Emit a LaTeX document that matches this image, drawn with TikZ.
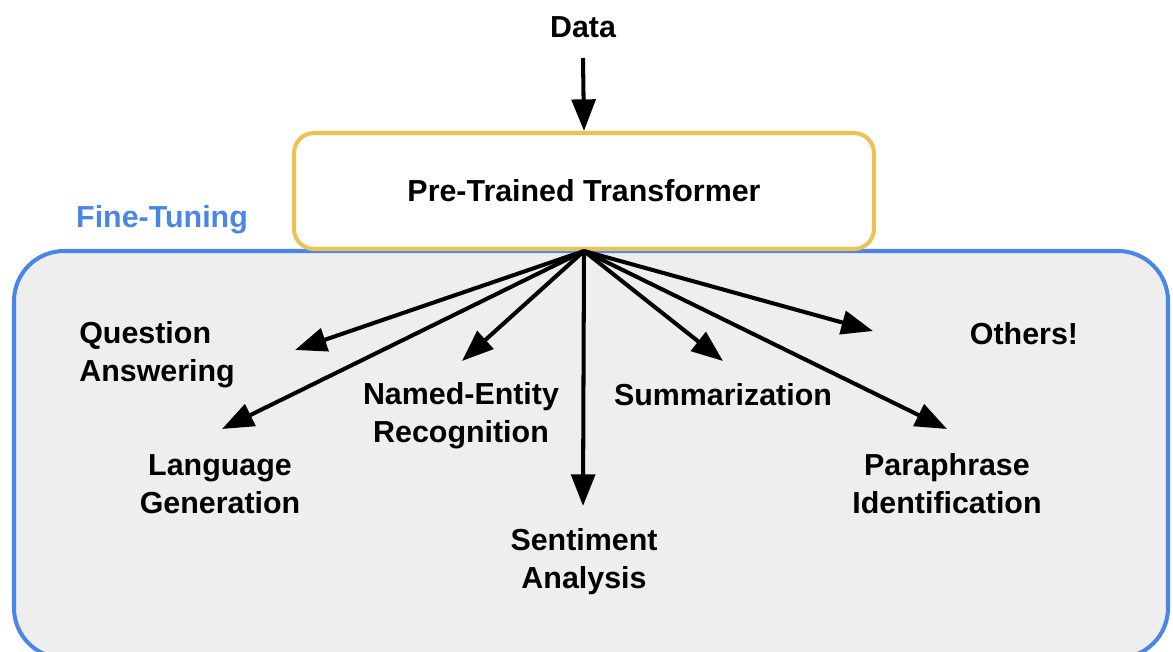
\documentclass[tikz,border=0pt]{standalone}
\usepackage{fontspec}
\setmainfont{Liberation Sans}
\usetikzlibrary{arrows.meta}

\definecolor{tuneblue}{HTML}{4A86E8}
\definecolor{tunegray}{HTML}{EEEEEE}
\definecolor{modelyellow}{HTML}{EBC253}

\begin{document}
\begin{tikzpicture}[x=0.02cm, y=-0.02cm,
	txt/.style={font=\bfseries\fontsize{17.3}{21.5}\selectfont, align=center, inner sep=0pt},
	arr/.style={line width=2.3pt, -{Triangle[length=18pt, width=13.5pt]}}]

	\useasboundingbox (0,0) rectangle (1173,652);
	\clip (0,0) rectangle (1173,652);

	% fine-tuning area
	\draw[tuneblue, fill=tunegray, line width=2.3pt, rounded corners=1cm]
		(14,251) rectangle (1168,658);
	\node[txt, text=tuneblue] (ft) at (162,220) {Fine-Tuning};

	\node[txt] (data) at (583,27) {Data};
	\node[txt, draw=modelyellow, fill=white, line width=2.3pt,
		rounded corners=0.4cm, minimum width=11.6cm, minimum height=2.32cm]
		(ptt) at (584,191) {Pre-Trained Transformer};

	\node[txt, align=left, anchor=west] (qa) at (79,355) {Question\\Answering};
	\node[txt] (lg) at (220,484) {Language\\Generation};
	\node[txt] (ner) at (461,416) {Named-Entity\\Recognition};
	\node[txt] (sa) at (584,562) {Sentiment\\Analysis};
	\node[txt] (sum) at (723,395) {Summarization};
	\node[txt] (oth) at (1024,334) {Others!};
	\node[txt] (pi) at (947,484) {Paraphrase\\Identification};

	% arrow tips
	\coordinate (t1) at (295,350);
	\coordinate (t2) at (222,429);
	\coordinate (t3) at (462,361);
	\coordinate (t4) at (583,506);
	\coordinate (t5) at (723,361);
	\coordinate (t6) at (873,331);
	\coordinate (t7) at (947,429);

	\draw[arr] (583,58) -- (ptt.north);

	\foreach \i in {1,...,7}
	{
		\draw[arr] (ptt.south) -- (t\i);
	};
\end{tikzpicture}
\end{document}
